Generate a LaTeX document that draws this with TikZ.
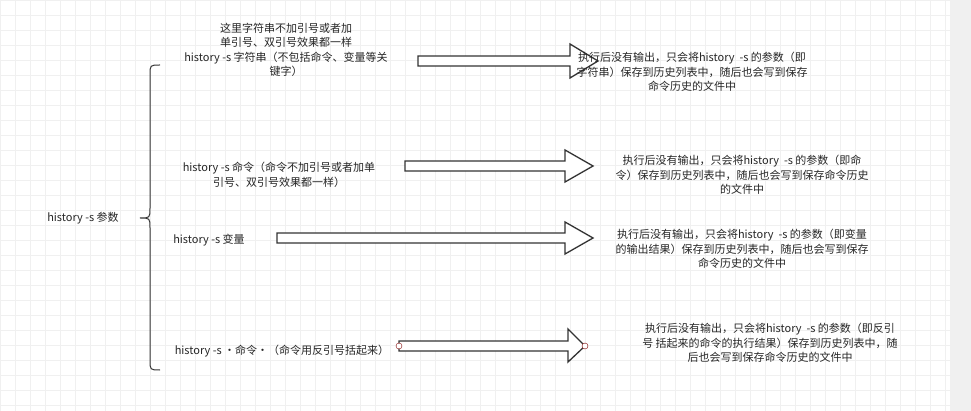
\documentclass[tikz,border=0pt]{standalone}
\usepackage{fontspec}
\setmainfont{Noto Sans CJK SC}
\begin{document}
\begin{tikzpicture}[x=1pt,y=-1pt,
  txt/.style={font=\fontsize{11}{14.5}\selectfont,text=black!85,align=center,inner sep=1pt},
  blk/.style={draw=black!80,line width=1.3pt,fill=white,line join=miter}]
\useasboundingbox (0,0) rectangle (971,411);
\fill[white] (0,0) rectangle (971,411);
\foreach \i in {0,15,...,945} \draw[black!6,line width=0.5pt] (\i,0) -- (\i,411);
\foreach \j in {0,15,...,405} \draw[black!6,line width=0.5pt] (0,\j) -- (950,\j);
\fill[black!6] (950,0) rectangle (971,411);
\node[txt] (root) at (83,218) {history -s 参数};
\draw[black!80,line width=1pt] (160,65) .. controls (150,65) .. (150,75) -- (150,208) .. controls (150,218) .. (140,218) .. controls (150,218) .. (150,228) -- (150,360) .. controls (150,370) .. (160,370);
\node[txt] (n1) at (286,50) {这里字符串不加引号或者加\\单引号、双引号效果都一样\\history -s 字符串（不包括命令、变量等关\\键字）};
\node[txt] (n2) at (279,175) {history -s 命令（命令不加引号或者加单\\引号、双引号效果都一样）};
\node[txt] (n3) at (209,240) {history -s 变量};
\node[txt] (n4) at (282,351) {history -s ·命令·（命令用反引号括起来）};
\draw[blk] (418,56) -- (570,56) -- (570,44) -- (598,61) -- (570,78) -- (570,66) -- (418,66) -- cycle;
\draw[blk] (405,161) -- (565,161) -- (565,150) -- (593,166) -- (565,182) -- (565,171) -- (405,171) -- cycle;
\draw[blk] (277,233) -- (565,233) -- (565,222) -- (593,238) -- (565,254) -- (565,243) -- (277,243) -- cycle;
\draw[blk] (399,341) -- (568,341) -- (568,329) -- (585,346) -- (568,362) -- (568,351) -- (399,351) -- cycle;
\draw[red!50!black,fill=white] (399,346) circle (3);
\draw[red!50!black,fill=white] (585,346) circle (3);
\node[txt] (r1) at (692,72) {执行后没有输出，只会将history\ \ -s 的参数（即\\字符串）保存到历史列表中，随后也会写到保存\\命令历史的文件中};
\node[txt] (r2) at (742,175) {执行后没有输出，只会将history\ \ -s 的参数（即命\\令）保存到历史列表中，随后也会写到保存命令历史\\的文件中};
\node[txt] (r3) at (742,249) {执行后没有输出，只会将history\ \ -s 的参数（即变量\\的输出结果）保存到历史列表中，随后也会写到保存\\命令历史的文件中};
\node[txt] (r4) at (770,343) {执行后没有输出，只会将history\ \ -s 的参数（即反引\\号 括起来的命令的执行结果）保存到历史列表中，随\\后也会写到保存命令历史的文件中};
\end{tikzpicture}
\end{document}
